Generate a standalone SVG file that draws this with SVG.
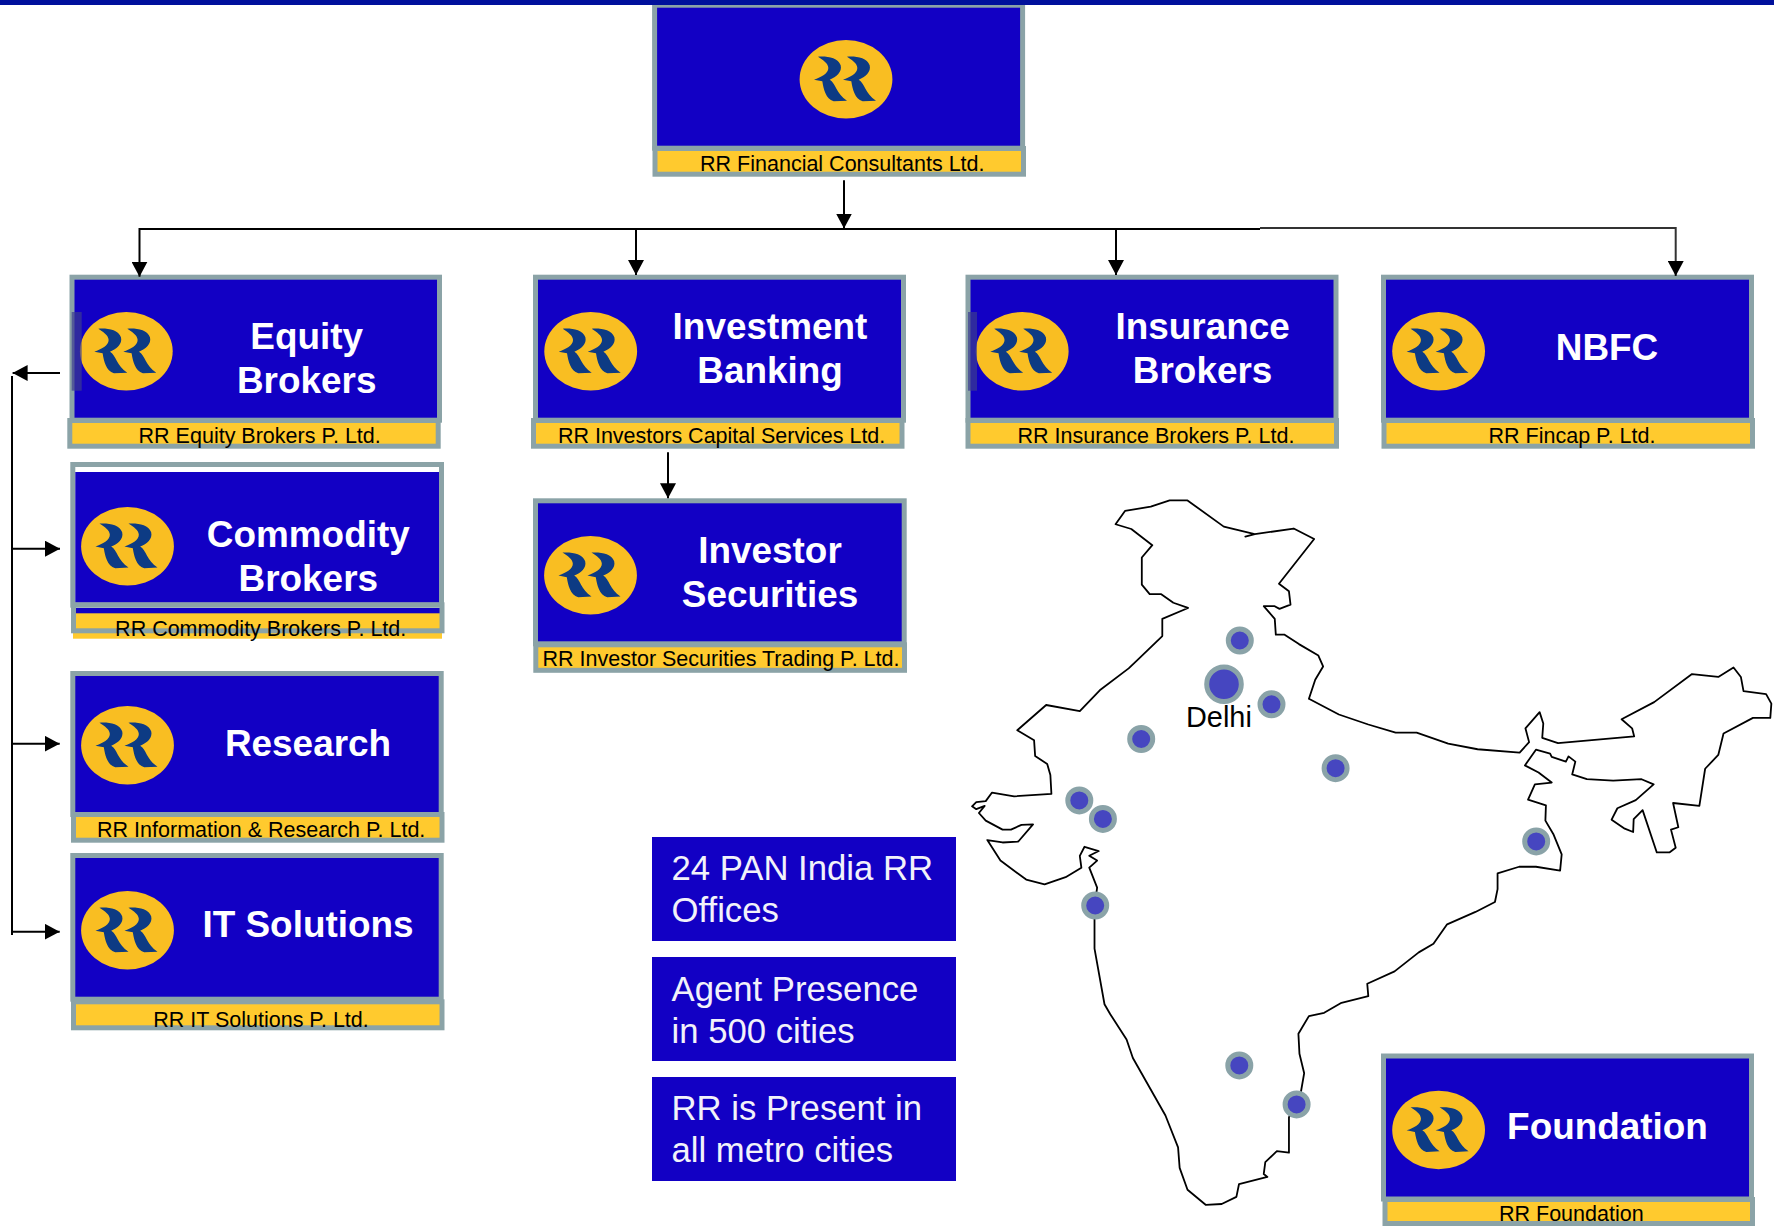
<svg xmlns="http://www.w3.org/2000/svg" width="1774" height="1226" viewBox="0 0 1774 1226">
<style>
.box{fill:#1200C4;stroke:#8BA3A7;stroke-width:5}
.plain{fill:#1200C4}
.strip{fill:#FFCA2E;stroke:#8BA3A7;stroke-width:5}
.title{font:bold 36.9px "Liberation Sans",Arial,sans-serif;fill:#fff;text-anchor:middle}
.sub{font:21.5px "Liberation Sans",Arial,sans-serif;fill:#000;text-anchor:middle}
.info{font:34.7px "Liberation Sans",Arial,sans-serif;fill:#F2F2FA}
.conn{fill:none;stroke:#000;stroke-width:2}
.dot{fill:#4646C0;stroke:#8AA3A8;stroke-width:5}
.map{fill:none;stroke:#000;stroke-width:1.8;stroke-linejoin:round;vector-effect:non-scaling-stroke}
</style>
<defs>
<filter id="soft" x="-5%" y="-5%" width="110%" height="110%"><feGaussianBlur stdDeviation="0.6"/></filter>
<marker id="arrow" markerUnits="userSpaceOnUse" markerWidth="15" markerHeight="16" refX="15" refY="8" orient="auto"><path d="M0,0L15,8L0,16z" fill="#000"/></marker>
<g id="logo" filter="url(#soft)">
<ellipse rx="46.4" ry="39.3" fill="#F9BE22"/>
<g transform="scale(.3333) translate(-169 -154)" fill="#0A3A84">
<path d="M85,86C110,84 145,88 153,112C158,132 140,148 120,155C138,165 140,198 172,218L132,220C108,212 102,185 98,160L73,155C95,148 116,136 116,120C116,106 100,96 85,86Z"/>
<path d="M172,86C197,84 232,88 240,112C245,132 227,148 207,155C225,165 227,198 259,218L219,220C195,212 189,185 185,160L160,155C182,148 203,136 203,120C203,106 187,96 172,86Z"/>
</g>
</g>
</defs>
<rect width="1774" height="1226" fill="#fff"/>

<g id="map">
<path class="map" transform="translate(950 480) scale(.5255 .4757)" d="M315,93L333,65L382,56L418,43L452,43L521,98L580,114L562,119L580,114L654,102L693,124L626,218L645,234L648,262L627,271L617,265L597,265L618,292L620,325L636,325L664,345L701,369L710,392L695,420L683,460L740,493L796,514L848,531L888,531L948,554L1004,566L1084,573L1102,551L1095,522L1122,488L1129,512L1127,542L1157,553L1302,539L1298,522L1278,503L1340,467L1412,408L1462,414L1491,394L1505,414L1510,444L1553,450L1563,470L1561,500L1528,500L1472,533L1462,578L1437,607L1426,685L1376,679L1386,730L1372,735L1381,773L1369,783L1345,783L1318,694L1301,713L1300,740L1284,733L1259,714L1270,690L1305,673L1339,640L1316,629L1262,632L1212,629L1184,619L1190,592L1177,581L1172,592L1145,582L1142,575L1115,567L1094,600L1120,615L1145,636L1113,640L1100,672L1134,684L1133,716L1148,744L1164,787L1161,821L1115,813L1083,813L1042,827L1042,860L1037,887L1000,908L946,934L920,975L892,993L846,1033L794,1059L796,1085L745,1099L712,1120L683,1127L663,1164L665,1206L674,1247L668,1285L645,1340L645,1414L622,1411L600,1434L597,1459L604,1465L550,1480L545,1507L517,1522L487,1524L452,1492L437,1446L434,1403L410,1336L348,1215L336,1176L305,1123L294,1102L275,985L275,895L280,857L265,815L280,800L265,790L283,780L256,771L247,790L250,815L220,835L180,850L145,840L96,800L71,757L100,762L130,760L158,724L136,725L116,735L100,735L68,716L55,700L66,685L50,692L42,686L50,677L68,675L80,657L122,665L193,660L191,620L185,597L162,580L160,547L128,526L183,473L247,486L285,442L340,396L360,375L404,328L404,292L453,269L425,258L402,240L380,240L365,220L365,163L385,137L345,103Z"/>
<circle class="dot" cx="1239.8" cy="640.5" r="11.5"/>
<circle class="dot" cx="1224" cy="684.3" r="17.3"/>
<circle class="dot" cx="1271.5" cy="704.3" r="11.5"/>
<circle class="dot" cx="1141.2" cy="739" r="11.5"/>
<circle class="dot" cx="1335.6" cy="768.2" r="11.5"/>
<circle class="dot" cx="1079.3" cy="800.4" r="11.5"/>
<circle class="dot" cx="1102.9" cy="818.9" r="11.5"/>
<circle class="dot" cx="1536.2" cy="841.4" r="11.5"/>
<circle class="dot" cx="1095.2" cy="905.5" r="11.5"/>
<circle class="dot" cx="1239.3" cy="1065.4" r="11.5"/>
<circle class="dot" cx="1296.6" cy="1104.4" r="11.5"/>
<text x="1186" y="727.4" font-family="'Liberation Sans',Arial,sans-serif" font-size="28.9" fill="#000">Delhi</text>
</g>

<g id="node-financial">
<rect class="box" x="654.6" y="5.2" width="368" height="143"/>
<rect class="strip" x="655" y="148.5" width="368.5" height="25.7"/>
<use href="#logo" x="846" y="79.3"/>
<text class="sub" x="842.3" y="170.9">RR Financial Consultants Ltd.</text>
</g>

<g id="node-equity">
<rect class="box" x="72" y="277.2" width="367.5" height="143"/>
<rect class="strip" x="69.8" y="420.5" width="368.4" height="25.7"/>
<use href="#logo" x="126.3" y="351.3"/>
<rect x="71.7" y="312" width="10" height="78.7" fill="#3C3C90" opacity=".7"/>
<text class="title" x="306.7" y="349">Equity</text>
<text class="title" x="306.7" y="393">Brokers</text>
<text class="sub" x="259.7" y="443">RR Equity Brokers P. Ltd.</text>
</g>

<g id="node-investment">
<rect class="box" x="535.5" y="277.2" width="368" height="143"/>
<rect class="strip" x="533.5" y="420.5" width="368.5" height="25.7"/>
<use href="#logo" x="590.7" y="351.3"/>
<text class="title" x="770" y="339">Investment</text>
<text class="title" x="770" y="383">Banking</text>
<text class="sub" x="721.6" y="443.2">RR Investors Capital Services Ltd.</text>
</g>

<g id="node-insurance">
<rect class="box" x="968" y="277.2" width="368" height="143"/>
<rect class="strip" x="968" y="420.5" width="368.5" height="25.7"/>
<use href="#logo" x="1022.2" y="351.3"/>
<rect x="968" y="312" width="9" height="78.7" fill="#3C3C90" opacity=".7"/>
<text class="title" x="1202.6" y="339">Insurance</text>
<text class="title" x="1202.6" y="383">Brokers</text>
<text class="sub" x="1156" y="443.2">RR Insurance Brokers P. Ltd.</text>
</g>

<g id="node-nbfc">
<rect class="box" x="1383.5" y="277.2" width="368" height="143"/>
<rect class="strip" x="1384" y="420.5" width="368.5" height="25.7"/>
<use href="#logo" x="1438.6" y="351.3"/>
<text class="title" x="1607" y="360">NBFC</text>
<text class="sub" x="1572" y="443.2">RR Fincap P. Ltd.</text>
</g>

<g id="node-investor">
<rect class="box" x="535.5" y="500.8" width="368.7" height="143"/>
<rect class="strip" x="535.8" y="644.8" width="368.7" height="25.5"/>
<use href="#logo" x="590.5" y="575.2"/>
<text class="title" x="770" y="563">Investor</text>
<text class="title" x="770" y="607">Securities</text>
<text class="sub" x="721" y="666.3">RR Investor Securities Trading P. Ltd.</text>
</g>

<g id="node-commodity">
<rect x="72.8" y="464.5" width="368.7" height="140.7" fill="#fff" stroke="#8BA3A7" stroke-width="5"/>
<rect class="plain" x="75.3" y="472" width="363.7" height="130.7"/>
<rect x="73" y="608" width="369" height="30.7" fill="#FFCA2E"/>
<rect class="plain" x="75.7" y="608" width="365.5" height="5.3"/>
<rect x="73.5" y="604.8" width="368.5" height="26" fill="none" stroke="#8BA3A7" stroke-width="5"/>
<use href="#logo" x="127.5" y="546.2"/>
<text class="title" x="308.3" y="546.5">Commodity</text>
<text class="title" x="308.3" y="590.9">Brokers</text>
<text class="sub" x="260.7" y="635.8">RR Commodity Brokers P. Ltd.</text>
</g>

<g id="node-research">
<rect class="box" x="72.8" y="673.5" width="368.4" height="141"/>
<rect class="strip" x="73.5" y="814.5" width="368.5" height="25.7"/>
<use href="#logo" x="127.5" y="745.3"/>
<text class="title" x="308" y="756.2">Research</text>
<text class="sub" x="261.2" y="837">RR Information &amp; Research P. Ltd.</text>
</g>

<g id="node-it">
<rect class="box" x="72.8" y="855.5" width="368.4" height="143.7"/>
<rect class="strip" x="73.5" y="1001.8" width="368.5" height="26"/>
<use href="#logo" x="127.5" y="930.3"/>
<text class="title" x="308" y="936.7">IT Solutions</text>
<text class="sub" x="261" y="1026.9">RR IT Solutions P. Ltd.</text>
</g>

<g id="node-foundation">
<rect class="box" x="1383.5" y="1056" width="368" height="143"/>
<rect class="strip" x="1385" y="1199.5" width="367.5" height="24"/>
<use href="#logo" x="1438.6" y="1130"/>
<text class="title" x="1607.5" y="1139">Foundation</text>
<text class="sub" x="1571.3" y="1221.3">RR Foundation</text>
</g>

<g id="info-offices">
<rect class="plain" x="652" y="837" width="304" height="104"/>
<text class="info" x="671.5" y="880">24 PAN India RR</text>
<text class="info" x="671.5" y="922">Offices</text>
</g>
<g id="info-agents">
<rect class="plain" x="652" y="957" width="304" height="104"/>
<text class="info" x="671.5" y="1001">Agent Presence</text>
<text class="info" x="671.5" y="1043">in 500 cities</text>
</g>
<g id="info-metro">
<rect class="plain" x="652" y="1077" width="304" height="104"/>
<text class="info" x="671.5" y="1120">RR is Present in</text>
<text class="info" x="671.5" y="1162">all metro cities</text>
</g>

<g id="connectors">
<path class="conn" d="M139.5 229H1260"/>
<path class="conn" d="M1260 228H1675.7V276" stroke-opacity=".8" marker-end="url(#arrow)"/>
<path class="conn" d="M139.5 228V276.7" marker-end="url(#arrow)"/>
<path class="conn" d="M844 180.3V228.5" marker-end="url(#arrow)"/>
<path class="conn" d="M636 229V275" marker-end="url(#arrow)"/>
<path class="conn" d="M1116 229V275" marker-end="url(#arrow)"/>
<path class="conn" d="M668 452.3V498.3" marker-end="url(#arrow)"/>
<path class="conn" d="M12 376V935"/>
<path class="conn" d="M60 373H12.6" marker-end="url(#arrow)"/>
<path class="conn" d="M12 548.7H60" marker-end="url(#arrow)"/>
<path class="conn" d="M12 743.7H59.7" marker-end="url(#arrow)"/>
<path class="conn" d="M12 931.7H59.7" marker-end="url(#arrow)"/>
</g>

<rect id="top-bar" width="1774" height="5" fill="#00109C"/>
</svg>
